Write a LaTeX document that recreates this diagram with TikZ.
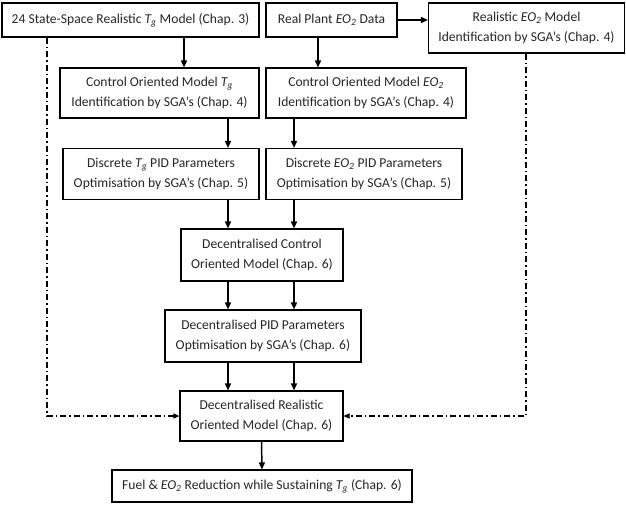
\documentclass[tikz,border=0pt]{standalone}
\usepackage{fontspec}
\setmainfont{Carlito}
\usetikzlibrary{arrows.meta}
\newcommand{\Tg}{\textit{T\textsubscript{g}}}
\newcommand{\EOt}{\textit{EO\textsubscript{2}}}
\begin{document}
\begin{tikzpicture}[x=1pt,y=-1pt,
  box/.style={draw=black, line width=1.1pt, inner sep=0pt, align=center,
    text=black!85, font=\fontsize{13.6}{20}\selectfont},
  arr/.style={line width=1.5pt, -{Triangle[length=7pt,width=6pt]}},
  dd/.style={line width=1.1pt, dash pattern=on 6pt off 3pt on 1.5pt off 3pt,
    -{Triangle[length=6pt,width=5pt]}}]
\useasboundingbox (0,0) rectangle (626,504);
% boxes
\node[box, minimum width=257pt, minimum height=34pt] (A) at (130.5,20) {24 State-Space Realistic \Tg{} Model (Chap. 3)};
\node[box, minimum width=131pt, minimum height=34pt] (B) at (331.5,20) {Real Plant \EOt{} Data};
\node[box, minimum width=196pt, minimum height=50pt] (C) at (526.5,28) {Realistic \EOt{} Model\\Identification by SGA's (Chap. 4)};
\node[box, minimum width=199pt, minimum height=50pt] (D) at (159.5,93) {Control Oriented Model \Tg\\Identification by SGA's (Chap. 4)};
\node[box, minimum width=200pt, minimum height=50pt] (E) at (366,93) {Control Oriented Model \EOt\\Identification by SGA's (Chap. 4)};
\node[box, minimum width=196pt, minimum height=51pt] (F) at (161,174) {Discrete \Tg{} PID Parameters\\Optimisation by SGA's (Chap. 5)};
\node[box, minimum width=196pt, minimum height=51pt] (G) at (364,174) {Discrete \EOt{} PID Parameters\\Optimisation by SGA's (Chap. 5)};
\node[box, minimum width=162pt, minimum height=52pt] (H) at (262,255) {Decentralised Control\\Oriented Model (Chap. 6)};
\node[box, minimum width=196pt, minimum height=52pt] (I) at (263,336) {Decentralised PID Parameters\\Optimisation by SGA's (Chap. 6)};
\node[box, minimum width=163pt, minimum height=50pt] (J) at (261.5,416) {Decentralised Realistic\\Oriented Model (Chap. 6)};
\node[box, minimum width=300pt, minimum height=32pt] (K) at (262,486) {Fuel \& \EOt{} Reduction while Sustaining \Tg{} (Chap. 6)};
% column coordinates
\coordinate (c1) at (184,0);
\coordinate (c2) at (318,0);
\coordinate (c3) at (228,0);
\coordinate (c4) at (294,0);
\coordinate (cl) at (47,0);
\coordinate (cr) at (526,0);
% connectors
\draw[arr] (B.east) -- (C.west |- B.east);
\draw[arr] (A.south -| c1) -- (D.north -| c1);
\draw[arr] (B.south -| c2) -- (E.north -| c2);
\draw[arr] (D.south -| c3) -- (F.north -| c3);
\draw[arr] (E.south -| c4) -- (G.north -| c4);
\draw[arr] (F.south -| c3) -- (H.north -| c3);
\draw[arr] (G.south -| c4) -- (H.north -| c4);
\draw[arr] (H.south -| c3) -- (I.north -| c3);
\draw[arr] (H.south -| c4) -- (I.north -| c4);
\draw[arr] (I.south -| c3) -- (J.north -| c3);
\draw[arr] (I.south -| c4) -- (J.north -| c4);
\draw[arr] (J.south) -- (K.north);
\draw[dd] (A.south -| cl) |- (J.west);
\draw[dd] (C.south -| cr) |- (J.east);
\end{tikzpicture}
\end{document}
